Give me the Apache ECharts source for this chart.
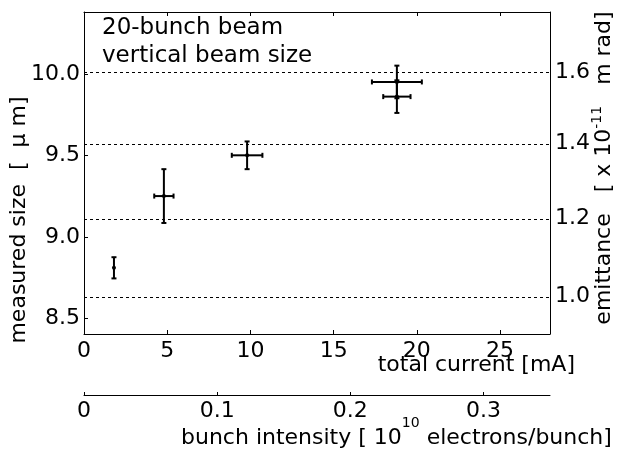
<!DOCTYPE html>
<html><head><meta charset="utf-8">
<script src="https://cdn.jsdelivr.net/npm/echarts@6/dist/echarts.min.js"></script>
<style>html,body{margin:0;padding:0;background:#fff}#c{width:618px;height:455px}</style>
</head><body><div id="c"></div>
<script>
// ---- data ----
const currentMA   = [1.8, 4.8, 9.8, 18.8, 18.8];
const currentErr  = [0, 0.58, 0.92, 1.5, 0.82];
const sizeUm      = [8.81, 9.25, 9.50, 9.95, 9.86];
const sizeErr     = [0.065, 0.165, 0.085, 0.10, 0.10];
const currentTicks   = [0, 5, 10, 15, 20, 25];
const intensityTicks = [0, 0.1, 0.2, 0.3];
const sizeTicks      = [8.5, 9.0, 9.5, 10.0];
const emittanceTicks = [1.0, 1.2, 1.4, 1.6];
const annotation = ['20-bunch beam', 'vertical beam size'];
// axis relation: emittance = (size^2 - RES_SQ) / BETA   (right axis is non-linear)
const RES_SQ = 31.9, BETA = 42.65;
const emitToSize = e => Math.sqrt(RES_SQ + BETA * e);
const sizeToEmit = s => (s * s - RES_SQ) / BETA;

const FONT = 'DejaVu Sans';
const F22 = '22px "DejaVu Sans"';
const F14 = '14px "DejaVu Sans"';
const SIZE_MIN = 8.404, SIZE_MAX = 10.379;
const black = '#000';

// text pieces with superscripts: [text, font, raise]
const intensityName = [['bunch intensity [ 10', F22, 0], ['10', F14, 15], [' electrons/bunch]', F22, 0]];
const emittanceName = [['emittance   [ x 10', F22, 0], ['-11', F14, 7], ['   m rad]', F22, 0]];

const mctx = document.createElement('canvas').getContext('2d');
function measure(t, f) { mctx.font = f; return mctx.measureText(t).width; }
// horizontal: starts at x0, baseline-center y
function pieceText(parts, x0, yc) {
  let off = 0; const out = [];
  parts.forEach(([t, f, r]) => {
    out.push({type: 'text', x: x0 + off, y: yc - r, style: {text: t, font: f, fill: black, align: 'left', verticalAlign: 'middle'}});
    off += measure(t, f);
  });
  return out;
}
// rotated (bottom to top), centred at (xc, yc)
function pieceTextV(parts, xc, yc) {
  const W = parts.reduce((s, [t, f]) => s + measure(t, f), 0);
  let off = 0; const out = [];
  parts.forEach(([t, f, r]) => {
    out.push({type: 'text', x: xc - r, y: yc + W / 2 - off, rotation: Math.PI / 2,
      style: {text: t, font: f, fill: black, align: 'left', verticalAlign: 'middle'}});
    off += measure(t, f);
  });
  return out;
}

const chart = echarts.init(document.getElementById('c'), null, {renderer: 'canvas'});

const errData = currentMA.map((x, i) => [x, sizeUm[i], currentErr[i], sizeErr[i]]);

chart.setOption({
  animation: false,
  backgroundColor: '#fff',
  grid: {left: 84, top: 12, width: 466, height: 322, containLabel: false},
  xAxis: [
    {
      type: 'value', min: 0, max: 28, position: 'bottom',
      axisLine: {show: true, lineStyle: {color: black, width: 1}},
      axisTick: {show: true, inside: true, length: 4, customValues: currentTicks, lineStyle: {color: black}},
      axisLabel: {customValues: currentTicks, color: black, fontFamily: FONT, fontSize: 22, margin: 6,
                  formatter: v => String(v)},
      splitLine: {show: false}
    },
    {
      type: 'value', min: 0, max: 0.35, position: 'bottom', offset: 61,
      axisLine: {show: true, onZero: false, lineStyle: {color: black, width: 1}},
      axisTick: {show: true, inside: true, length: 3, customValues: intensityTicks, lineStyle: {color: black}},
      axisLabel: {customValues: intensityTicks, color: black, fontFamily: FONT, fontSize: 22, margin: 5,
                  formatter: v => (v === 0 ? '0' : v.toFixed(1))},
      splitLine: {show: false}
    },
    {
      type: 'value', min: 0, max: 28, position: 'top',
      axisLine: {show: true, lineStyle: {color: black, width: 1}},
      axisTick: {show: true, inside: true, length: 4, customValues: currentTicks, lineStyle: {color: black}},
      axisLabel: {show: false},
      splitLine: {show: false}
    }
  ],
  yAxis: [
    {
      type: 'value', min: SIZE_MIN, max: SIZE_MAX, position: 'left',
      axisLine: {show: true, onZero: false, lineStyle: {color: black, width: 1}},
      axisTick: {show: true, inside: true, length: 4, customValues: sizeTicks, lineStyle: {color: black}},
      axisLabel: {customValues: sizeTicks, color: black, fontFamily: FONT, fontSize: 22, margin: 4,
                  formatter: v => v.toFixed(1)},
      splitLine: {show: false}
    },
    {
      type: 'value', min: SIZE_MIN, max: SIZE_MAX, position: 'right',
      axisLine: {show: true, onZero: false, lineStyle: {color: black, width: 1}},
      axisTick: {show: false},
      axisLabel: {customValues: emittanceTicks.map(emitToSize), color: black, fontFamily: FONT, fontSize: 22, margin: 5,
                  formatter: v => sizeToEmit(v).toFixed(1)},
      splitLine: {show: false}
    }
  ],
  graphic: [
    {type: 'text', x: 102, y: 28, style: {text: annotation[0], font: '23px "DejaVu Sans"', fill: black, align: 'left', verticalAlign: 'middle'}},
    {type: 'text', x: 102, y: 56.5, style: {text: annotation[1], font: '23px "DejaVu Sans"', fill: black, align: 'left', verticalAlign: 'middle'}},
    {type: 'text', x: 575, y: 365, style: {text: 'total current [mA]', font: F22, fill: black, align: 'right', verticalAlign: 'middle'}},
    ...pieceText(intensityName, 181, 438),
    {type: 'text', x: 19, y: 220, rotation: Math.PI / 2, style: {
      text: 'measured size  [  μ m]', font: F22, fill: black, align: 'center', verticalAlign: 'middle'}},
    ...pieceTextV(emittanceName, 604, 168)
  ],
  series: [
    {
      type: 'line', xAxisIndex: 0, yAxisIndex: 0, data: [], silent: true,
      markLine: {
        silent: true, symbol: ['none', 'none'], animation: false,
        label: {show: false},
        lineStyle: {color: black, width: 1, type: [3, 3]},
        data: emittanceTicks.map(e => ({yAxis: emitToSize(e)}))
      }
    },
    {
      type: 'custom', xAxisIndex: 0, yAxisIndex: 0, data: errData, silent: true,
      encode: {x: 0, y: 1},
      renderItem: function (params, api) {
        const x = api.value(0), y = api.value(1), xe = api.value(2), ye = api.value(3);
        const c = api.coord([x, y]);
        const st = {stroke: black, lineWidth: 2};
        const cap = 2.5;
        const ch = [];
        if (ye > 0) {
          const t = api.coord([x, y + ye]), b = api.coord([x, y - ye]);
          ch.push({type: 'line', shape: {x1: t[0], y1: t[1], x2: b[0], y2: b[1]}, style: st});
          ch.push({type: 'line', shape: {x1: t[0] - cap, y1: t[1], x2: t[0] + cap, y2: t[1]}, style: st});
          ch.push({type: 'line', shape: {x1: b[0] - cap, y1: b[1], x2: b[0] + cap, y2: b[1]}, style: st});
        }
        if (xe > 0) {
          const l = api.coord([x - xe, y]), r = api.coord([x + xe, y]);
          ch.push({type: 'line', shape: {x1: l[0], y1: l[1], x2: r[0], y2: r[1]}, style: st});
          ch.push({type: 'line', shape: {x1: l[0], y1: l[1] - cap, x2: l[0], y2: l[1] + cap}, style: st});
          ch.push({type: 'line', shape: {x1: r[0], y1: r[1] - cap, x2: r[0], y2: r[1] + cap}, style: st});
        }
        ch.push({type: 'circle', shape: {cx: c[0], cy: c[1], r: 2}, style: {fill: black}});
        return {type: 'group', children: ch};
      }
    }
  ]
});
</script>
</body></html>
